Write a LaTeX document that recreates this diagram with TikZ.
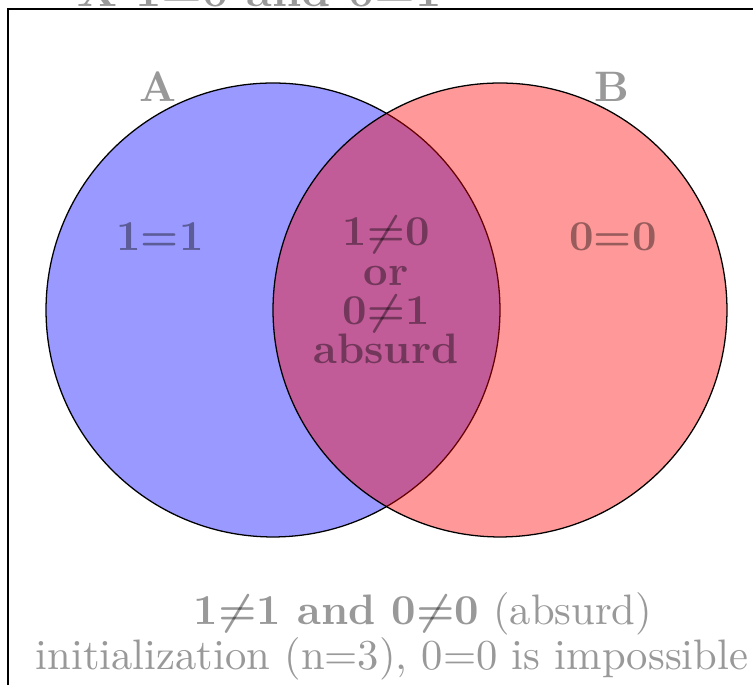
\documentclass[tikz,border=0pt]{standalone}
\usetikzlibrary{positioning}
\newcommand{\bneq}{\mbox{\boldmath$\neq$}}

\begin{document}
\begin{tikzpicture}[
    x=0.2346pt, y=-0.2346pt,
    setcircle/.style={circle, draw, line width=0.3pt, minimum size=106.5pt, fill opacity=0.4},
    lbl/.style={font=\bfseries, text opacity=0.4, inner sep=0pt},
    note/.style={text opacity=0.4, inner sep=0pt, anchor=base},
]
\useasboundingbox (0,0) rectangle (753,685);
\clip (0,0) rectangle (753,685);
\draw[line width=0.3pt] (8,9) rectangle (790,720);

\node[lbl, anchor=base, font=\fontsize{11}{13}\selectfont\bfseries] (title) at (260,7) {X 1=0 and 0=1};

\node[setcircle, fill=blue] (setA) at (273,310) {};
\node[setcircle, fill=red] (setB) at (500,310) {};

\node[lbl] (nameA) at (158,87) {A};
\node[lbl] (nameB) at (612,87) {B};

\node[lbl] (onlyA) at (160,237) {1=1};
\node[lbl] (onlyB) at (613,237) {0=0};
\node[lbl, align=center, font=\fontsize{10}{9.2}\selectfont\bfseries] (both) at (386,290)
    {1\bneq0\\or\\0\bneq1\\absurd};

\node[note] (outside) at (423,625) {\textbf{1\bneq1 and 0\bneq0} (absurd)};
\node[note] (init) at (392,670) {initialization (n=3), 0=0 is impossible};

\end{tikzpicture}
\end{document}
